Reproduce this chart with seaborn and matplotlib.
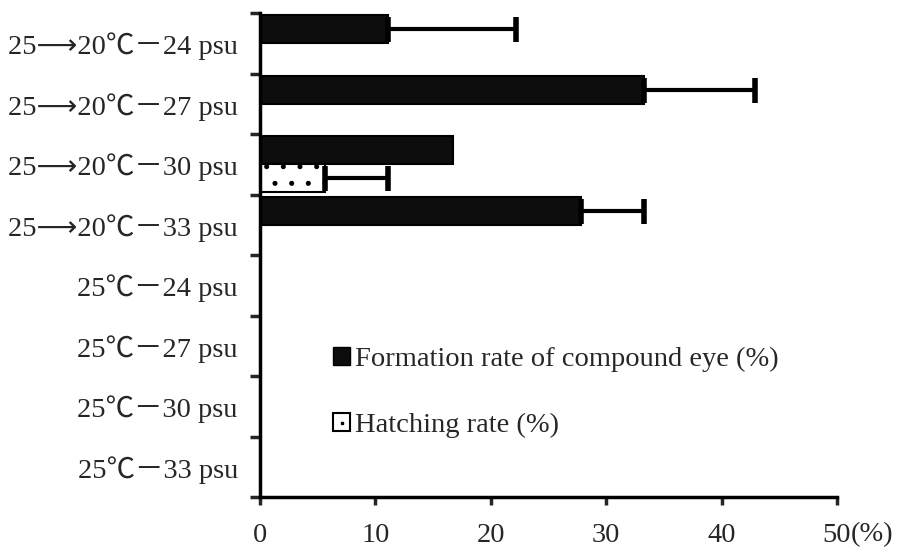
import matplotlib
matplotlib.use("Agg")
import matplotlib.pyplot as plt
from matplotlib.patches import Patch
from matplotlib.lines import Line2D
import seaborn as sns
import pandas as pd
import numpy as np

categories = ["25⟶20℃－24 psu", "25⟶20℃－27 psu", "25⟶20℃－30 psu", "25⟶20℃－33 psu",
              "25℃－24 psu", "25℃－27 psu", "25℃－30 psu", "25℃－33 psu"]
formation = [11.1, 33.3, 16.7, 27.8, 0, 0, 0, 0]
formation_sd = [11.1, 9.6, 0, 5.5, 0, 0, 0, 0]
hatching = [0, 0, 5.6, 0, 0, 0, 0, 0]
hatching_sd = [0, 0, 5.5, 0, 0, 0, 0, 0]
series = ["Formation rate of compound eye (%)", "Hatching rate (%)"]
xticks = [0, 10, 20, 30, 40, 50]

sns.set_theme(style="white")
plt.rcParams["font.family"] = ["Liberation Serif", "Noto Sans CJK SC", "DejaVu Sans"]
plt.rcParams["hatch.linewidth"] = 1.2

FS = 20.5

df = pd.DataFrame({
    "category": categories * 2,
    "value": formation + hatching,
    "series": [series[0]] * len(categories) + [series[1]] * len(categories),
})

fig = plt.figure(figsize=(9.04, 5.48), dpi=100)
ax = fig.add_axes([260 / 904, 51 / 548, 577 / 904, 484 / 548])

sns.barplot(data=df, x="value", y="category", hue="series", hue_order=series,
            order=categories, orient="h", palette=["#0d0d0d", "white"],
            width=0.93, gap=0, errorbar=None, legend=False, ax=ax,
            edgecolor="black", linewidth=1.5)

for bar in ax.containers[1]:
    bar.set_hatch(".")

for cont, sds in zip(ax.containers, [formation_sd, hatching_sd]):
    for bar, sd in zip(cont, sds):
        if sd > 0:
            yc = bar.get_y() + bar.get_height() / 2
            ax.errorbar(bar.get_width(), yc, xerr=[[0], [sd]], fmt="none",
                        ecolor="black", elinewidth=3, capsize=9, capthick=4,
                        zorder=1)

ax.set_xlim(0, 50)
ax.set_ylim(len(categories) - 0.5, -0.5)
ax.set_xticks(xticks)
ax.set_xticklabels([str(t) for t in xticks])
ax.set_yticks(range(len(categories)))
ax.set_yticklabels(categories)
ax.set_yticks(np.arange(-0.5, len(categories), 1.0), minor=True)
ax.tick_params(axis="y", which="major", length=0, pad=16, labelsize=FS)
ax.tick_params(axis="y", which="minor", length=7, width=2.5, direction="out", left=True)
ax.tick_params(axis="x", which="major", length=6, width=2.5, direction="out",
               bottom=True, pad=13, labelsize=FS)
ax.set_xlabel("")
ax.set_ylabel("")
for s in ["top", "right"]:
    ax.spines[s].set_visible(False)
for s in ["left", "bottom"]:
    ax.spines[s].set_linewidth(2.5)
    ax.spines[s].set_color("black")

ax.annotate("(%)", xy=(50, 0), xycoords=("data", "axes fraction"),
            xytext=(10, -27), textcoords="offset points", ha="left", va="center",
            fontsize=FS)

handles = [Patch(facecolor="#0d0d0d", edgecolor="black", linewidth=1.0),
           (Patch(facecolor="white", edgecolor="black", linewidth=1.5),
            Line2D([], [], marker="s", markersize=2, color="black", linestyle="none"))]
fig.legend(handles, series, loc="upper left", bbox_to_anchor=(0.353, 0.393),
           frameon=False, fontsize=FS, handlelength=0.6, handleheight=0.6,
           handletextpad=0.15, labelspacing=1.45, borderpad=0)

fig.savefig("out.png", dpi=100)
